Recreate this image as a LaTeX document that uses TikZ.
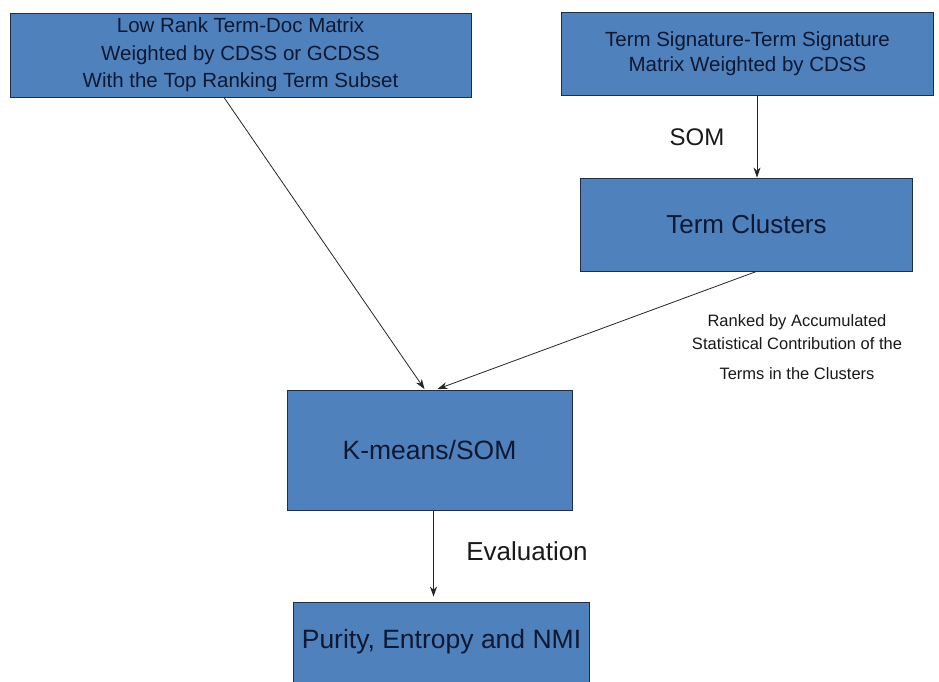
\documentclass[tikz,border=0pt]{standalone}
\usepackage{fontspec}
\setmainfont{Liberation Sans}
\usetikzlibrary{arrows.meta,calc}
\definecolor{boxfill}{RGB}{79,129,189}
\definecolor{boxline}{RGB}{30,45,75}
\definecolor{boxtext}{RGB}{14,24,50}
\tikzset{
  blk/.style={draw=boxline, line width=0.9pt, fill=boxfill, text=boxtext, align=center, inner sep=0pt},
  arr/.style={draw=black!85, line width=0.8pt, -{Stealth[length=10pt,width=7pt]}},
  lbl/.style={text=black!90, align=center, inner sep=0pt}
}
\begin{document}
\begin{tikzpicture}[x=1pt,y=-1pt]
\useasboundingbox (0,0) rectangle (939,681);
\clip (0,0) rectangle (939,681);
\fill[white] (0,0) rectangle (939,681);
\node[blk, minimum width=461pt, minimum height=84pt, font=\fontsize{20.5}{27.5}\selectfont] (A) at (240.5,55)
  {Low Rank Term-Doc Matrix\\Weighted by CDSS or GCDSS\\With the Top Ranking Term Subset};
\node[blk, minimum width=372pt, minimum height=83pt, font=\fontsize{20.5}{25}\selectfont] (B) at (747.5,53.5)
  {Term Signature-Term Signature\\Matrix Weighted by CDSS};
\node[blk, minimum width=332pt, minimum height=93pt, font=\fontsize{26}{30}\selectfont] (C) at (746.5,224.5)
  {Term Clusters};
\node[blk, minimum width=285pt, minimum height=120pt, font=\fontsize{26.5}{30}\selectfont] (D) at (429.5,450.5)
  {K-means/SOM};
\node[blk, minimum width=296pt, minimum height=80pt, font=\fontsize{26.5}{30}\selectfont] (E) at (441.5,642)
  {Purity, Entropy and NMI};
\node[lbl, font=\fontsize{24}{28}\selectfont] (som) at (697,137) {SOM};
\node[lbl, font=\fontsize{26}{30}\selectfont] (ev) at (527,551) {Evaluation};
\node[lbl, font=\fontsize{16.5}{23}\selectfont, anchor=north] (rk) at (797,314)
  {Ranked by Accumulated\\Statistical Contribution of the\\[7pt]Terms in the Clusters};
\draw[arr] ($(A.south)+(-16.5,0)$) -- ($(D.north)+(-5,-1)$);
\draw[arr] ($(C.south)+(10,0)$) -- ($(D.north)+(8,-1)$);
\draw[arr] ($(B.south)+(9.5,0)$) -- ($(C.north)+(10.5,0)$);
\draw[arr] ($(D.south)+(4,0)$) -- ($(E.north)+(-8,-5)$);
\end{tikzpicture}
\end{document}
